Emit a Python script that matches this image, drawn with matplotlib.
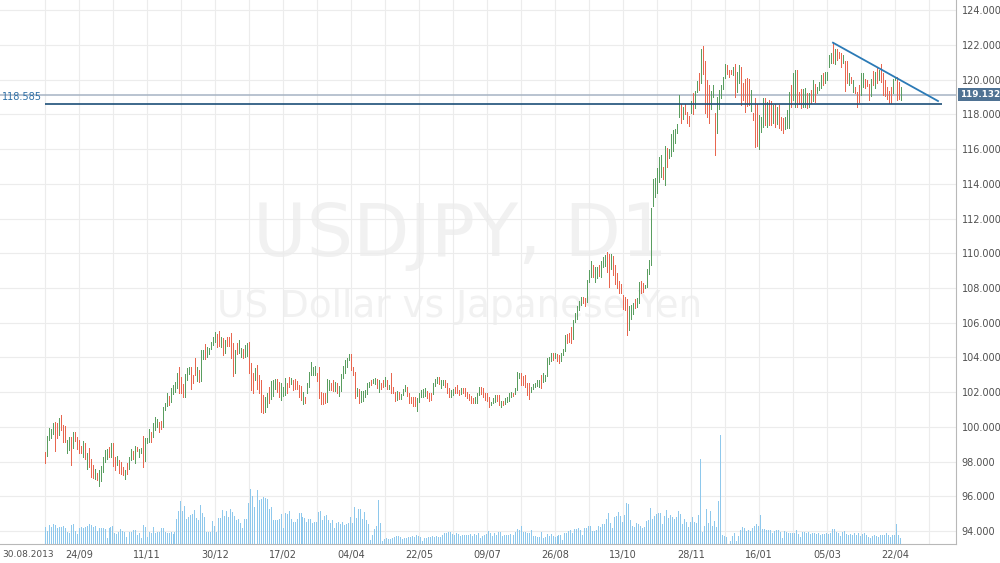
import numpy as np
import matplotlib
matplotlib.use('Agg')
import matplotlib.pyplot as plt

# USDJPY D1, 30.08.2013 - 24.04.2015 (one entry per daily bar)
highs = [
    98.55, 99.48, 99.92, 99.86, 100.20, 100.30, 100.20, 100.53, 100.68, 100.09,
    100.05, 99.24, 99.40, 99.44, 99.72, 99.72, 99.40, 99.24, 98.90, 99.19,
    99.09, 98.51, 98.76, 98.13, 97.80, 97.55, 97.32, 97.51, 97.74, 98.28,
    98.67, 98.71, 98.82, 99.05, 99.05, 98.28, 98.32, 98.09, 97.99, 97.71,
    97.51, 97.90, 98.28, 98.71, 98.63, 98.90, 98.86, 98.71, 98.76, 99.48,
    99.34, 99.38, 99.86, 99.72, 100.24, 100.55, 100.43, 100.30, 100.35, 101.16,
    101.39, 101.93, 101.78, 102.22, 102.41, 102.60, 103.12, 103.47, 102.89, 102.47,
    103.05, 103.37, 103.47, 103.43, 102.99, 103.95, 103.43, 103.28, 104.43, 104.43,
    104.75, 104.62, 104.52, 104.89, 105.19, 105.48, 105.35, 105.54, 105.19, 105.10,
    105.01, 105.19, 105.16, 105.42, 104.81, 104.43, 104.81, 105.01, 104.52, 104.47,
    104.71, 104.81, 104.91, 103.66, 103.08, 103.37, 103.57, 102.99, 102.70, 101.83,
    101.74, 101.97, 102.28, 102.66, 102.70, 102.74, 102.74, 102.60, 102.51, 102.32,
    102.79, 102.51, 102.89, 102.79, 102.70, 102.74, 102.64, 102.41, 102.35, 102.03,
    101.74, 102.54, 103.18, 103.76, 103.47, 103.51, 103.12, 103.47, 102.03, 101.97,
    101.97, 102.74, 102.70, 102.54, 102.70, 102.60, 102.51, 102.35, 103.05, 103.51,
    103.85, 103.95, 104.20, 104.20, 103.43, 103.18, 102.22, 102.16, 102.08, 102.08,
    102.12, 102.54, 102.60, 102.70, 102.74, 102.79, 102.74, 102.70, 102.51, 102.70,
    102.89, 102.70, 102.41, 103.12, 102.31, 102.02, 102.08, 102.02, 101.89, 102.16,
    102.41, 102.31, 101.93, 101.74, 101.70, 101.70, 101.64, 101.93, 102.12, 102.16,
    102.22, 102.08, 101.97, 101.97, 102.54, 102.74, 102.89, 102.89, 102.70, 102.70,
    102.70, 102.51, 102.22, 102.12, 102.16, 102.31, 102.41, 102.12, 102.22, 102.22,
    102.22, 102.02, 101.89, 101.77, 101.64, 101.74, 101.97, 102.31, 102.31, 102.22,
    101.97, 101.93, 101.74, 101.45, 101.64, 101.83, 101.83, 101.83, 101.50, 101.50,
    101.64, 101.74, 101.97, 102.03, 101.97, 102.22, 103.18, 103.08, 103.12, 102.93,
    102.98, 102.54, 102.50, 102.31, 102.47, 102.54, 102.70, 102.70, 102.98, 103.08,
    102.98, 103.94, 104.04, 104.27, 104.27, 104.27, 104.19, 104.13, 104.23, 104.46,
    105.29, 105.35, 105.38, 105.73, 106.15, 106.58, 106.96, 107.27, 107.46, 107.46,
    107.40, 108.46, 109.03, 109.57, 109.32, 109.23, 109.19, 109.32, 109.57, 109.76,
    109.90, 110.09, 109.96, 109.96, 109.84, 109.32, 108.84, 108.42, 108.23, 107.60,
    107.50, 107.35, 106.96, 107.00, 107.13, 107.36, 107.42, 108.34, 108.40, 108.29,
    108.17, 109.10, 109.60, 112.60, 114.28, 114.33, 114.90, 115.54, 115.66, 114.97,
    116.18, 116.06, 116.00, 116.87, 117.10, 117.16, 117.44, 119.10, 118.60, 118.42,
    118.60, 118.14, 117.90, 118.77, 119.23, 119.35, 119.92, 120.38, 121.77, 121.94,
    121.07, 119.98, 119.69, 119.35, 119.69, 118.08, 119.00, 119.40, 119.69, 120.15,
    120.90, 120.84, 120.56, 120.56, 120.73, 120.90, 120.44, 120.84, 120.73, 119.80,
    120.04, 120.09, 120.04, 119.40, 118.08, 118.94, 118.60, 117.96, 117.83, 118.92,
    118.92, 118.73, 118.83, 118.79, 118.54, 118.60, 118.40, 118.54, 117.83, 117.77,
    117.83, 118.25, 119.31, 119.69, 120.40, 120.56, 120.56, 119.31, 119.44, 119.44,
    119.50, 119.21, 119.21, 119.40, 119.98, 119.75, 119.60, 119.88, 120.27, 120.36,
    120.46, 120.46, 121.42, 121.52, 122.13, 121.75, 121.75, 121.61, 121.52, 121.42,
    121.09, 121.09, 120.40, 120.17, 119.98, 119.60, 119.31, 119.69, 120.36, 120.40,
    120.02, 119.98, 119.75, 120.02, 120.52, 120.46, 120.71, 120.56, 120.90, 120.36,
    119.98, 119.56, 119.36, 119.56, 120.02, 120.13, 120.17, 119.88, 119.56,
]
lows = [
    97.93, 98.32, 99.24, 99.38, 99.59, 98.63, 99.38, 99.53, 99.82, 99.13,
    99.13, 98.51, 98.67, 97.80, 98.76, 99.19, 98.71, 98.47, 98.47, 98.28,
    98.13, 97.59, 97.71, 97.13, 97.03, 96.98, 96.94, 96.61, 96.90, 97.42,
    97.99, 98.13, 98.28, 98.28, 97.74, 97.51, 97.80, 97.32, 97.28, 97.23,
    97.00, 97.28, 97.55, 98.09, 98.13, 97.90, 98.63, 98.24, 98.47, 97.71,
    98.05, 99.05, 99.15, 99.15, 99.44, 99.82, 100.01, 99.72, 99.86, 100.01,
    100.97, 101.20, 101.26, 101.45, 101.89, 102.03, 102.22, 101.93, 101.93, 101.70,
    101.70, 102.70, 103.05, 102.18, 102.51, 102.99, 102.64, 102.60, 102.64, 103.89,
    103.89, 104.05, 104.18, 104.47, 104.71, 104.91, 104.62, 104.66, 104.62, 104.14,
    104.24, 104.68, 104.66, 103.95, 102.93, 103.08, 104.20, 104.27, 104.05, 103.95,
    104.05, 104.08, 103.08, 102.12, 101.93, 102.70, 102.16, 101.93, 100.87, 100.81,
    100.87, 101.16, 101.39, 101.58, 101.78, 102.16, 102.03, 101.74, 101.55, 101.78,
    101.83, 101.97, 102.32, 102.47, 102.12, 102.20, 102.16, 101.70, 101.55, 101.30,
    101.39, 101.93, 102.28, 102.99, 102.99, 102.99, 102.66, 101.64, 101.30, 101.32,
    101.35, 101.45, 102.12, 102.12, 102.08, 102.06, 101.97, 101.78, 102.08, 102.79,
    103.12, 103.47, 103.85, 103.27, 102.99, 101.64, 101.77, 101.39, 101.45, 101.48,
    101.70, 101.89, 102.27, 102.41, 102.51, 102.47, 102.25, 102.02, 102.16, 102.27,
    102.35, 102.16, 102.16, 101.93, 101.93, 101.50, 101.54, 101.58, 101.58, 101.83,
    102.08, 101.79, 101.39, 101.39, 101.20, 101.20, 100.93, 101.45, 101.74, 101.74,
    101.77, 101.64, 101.50, 101.54, 101.89, 102.35, 102.51, 102.47, 102.22, 102.41,
    102.31, 101.93, 101.70, 101.70, 101.83, 101.93, 101.97, 101.83, 101.89, 101.93,
    101.77, 101.64, 101.54, 101.39, 101.35, 101.39, 101.39, 101.83, 101.89, 101.74,
    101.54, 101.50, 101.16, 101.26, 101.35, 101.45, 101.50, 101.26, 101.16, 101.26,
    101.31, 101.45, 101.50, 101.74, 101.77, 101.89, 102.12, 102.79, 102.41, 102.41,
    102.31, 101.83, 101.58, 102.03, 102.16, 102.28, 102.35, 102.31, 102.22, 102.60,
    102.66, 102.93, 103.62, 103.81, 103.85, 103.94, 103.81, 103.66, 103.81, 104.13,
    104.38, 104.85, 104.90, 104.81, 105.04, 106.06, 106.19, 106.73, 107.02, 107.15,
    106.96, 107.21, 108.36, 108.65, 108.65, 108.36, 108.55, 108.69, 108.65, 109.23,
    109.26, 108.94, 108.07, 109.07, 108.74, 108.23, 107.98, 107.73, 107.71, 106.80,
    106.75, 105.30, 105.58, 106.20, 106.50, 106.85, 106.90, 107.13, 107.70, 107.77,
    108.00, 108.05, 108.80, 109.30, 112.70, 113.24, 113.50, 114.10, 114.40, 114.28,
    113.93, 114.97, 115.50, 115.60, 115.90, 116.35, 116.93, 117.85, 117.50, 117.73,
    118.00, 117.50, 117.33, 118.08, 118.00, 118.37, 119.29, 119.40, 119.80, 120.33,
    118.08, 117.85, 117.50, 118.31, 119.00, 115.66, 116.93, 118.31, 118.94, 119.46,
    120.09, 120.33, 120.15, 120.33, 120.27, 119.00, 119.29, 119.80, 118.54, 118.83,
    118.14, 118.48, 118.54, 118.20, 117.68, 116.12, 116.18, 116.00, 117.00, 117.29,
    117.39, 117.29, 117.39, 117.39, 117.48, 117.29, 117.44, 117.20, 117.10, 116.95,
    117.14, 117.20, 117.20, 118.44, 118.83, 118.44, 118.40, 118.60, 118.35, 118.44,
    118.40, 118.35, 118.40, 118.64, 118.79, 118.73, 119.21, 119.40, 119.50, 119.69,
    119.79, 119.98, 120.71, 120.94, 120.94, 120.90, 121.13, 121.23, 120.71, 120.94,
    119.36, 119.79, 119.69, 119.79, 119.31, 119.21, 118.44, 118.73, 119.12, 119.60,
    119.50, 119.62, 118.83, 119.06, 119.69, 119.50, 119.79, 119.98, 119.88, 119.12,
    119.06, 118.87, 118.67, 118.64, 119.21, 119.98, 118.83, 118.87, 118.83,
]
# g = bar closed up, r = bar closed down
direction = (
    "rggggrrgrr" "rggrgrrrrg" "rgrrrgrggg" "ggrgrrgrrr" "grggrgrggr"
    "gggrgggrrg" "ggrggggrrr" "gggrrrgrgg" "rgggggrrgr" "grrrrgrggr"
    "ggrrrgrrrr" "ggrgggrrgg" "grrgrrrrrg" "rgggggrrrr" "rggrrgrggg"
    "gggrrrgrgg" "gggrggrgrr" "grgrrrgrgg" "grrrrrgggg" "grrrgggrgg"
    "rrrggrrrgr" "rrrrrgggrr" "rrrgggrrgr" "ggggrgggrr" "rrrgggggrg"
    "ggggrgrrgg" "grrrgggggr" "rgggrggrgg" "grrgrrrrrr" "rrgggrggrr"
    "gggggggggr" "grggggggrg" "rrrgrggrgr" "rrrggrgggg" "grrrgrggrr"
    "rrrgrrrggg" "rgrrgrgrrr" "gggrggrrrg" "grgrgrgggr" "ggggrgrrrg"
    "rrgrgrrrgg" "rrrgrgrgrr" "rrrrggrrg"
)
# tick volume
volumes = [
    17, 13, 19, 17, 20, 19, 16, 17, 17, 18, 16, 12, 11, 19, 20, 13, 10, 16, 17, 16,
    17, 18, 20, 19, 17, 18, 13, 16, 16, 16, 15, 6, 16, 17, 18, 11, 10, 12, 15, 13,
    12, 7, 12, 12, 14, 14, 9, 11, 6, 19, 17, 7, 12, 11, 17, 11, 12, 12, 16, 16,
    12, 11, 11, 12, 10, 12, 25, 33, 43, 33, 38, 25, 27, 29, 30, 34, 26, 24, 39, 31,
    27, 12, 12, 12, 23, 18, 12, 26, 26, 34, 28, 33, 27, 35, 32, 28, 24, 25, 21, 16,
    25, 25, 41, 55, 48, 37, 54, 44, 45, 47, 46, 45, 35, 37, 24, 24, 24, 25, 30, 16,
    31, 30, 33, 25, 22, 22, 25, 31, 31, 27, 26, 22, 25, 25, 21, 22, 22, 32, 33, 24,
    28, 29, 24, 21, 24, 16, 21, 22, 20, 22, 19, 20, 21, 27, 21, 37, 26, 35, 35, 25,
    32, 24, 20, 4, 9, 15, 18, 44, 21, 3, 5, 6, 5, 5, 6, 7, 8, 8, 7, 5,
    6, 6, 7, 7, 8, 7, 9, 8, 7, 3, 6, 6, 7, 7, 8, 7, 8, 7, 7, 9,
    11, 11, 12, 12, 10, 9, 11, 10, 8, 9, 9, 9, 9, 10, 8, 10, 9, 11, 6, 8,
    9, 10, 13, 11, 8, 11, 9, 12, 12, 8, 9, 9, 9, 10, 9, 12, 15, 14, 18, 12,
    12, 11, 11, 14, 8, 8, 7, 7, 12, 6, 7, 10, 8, 10, 8, 7, 8, 9, 9, 4,
    11, 11, 13, 14, 11, 15, 15, 16, 14, 9, 16, 16, 18, 18, 13, 13, 14, 18, 17, 20,
    20, 25, 31, 21, 16, 27, 28, 32, 28, 22, 29, 41, 40, 24, 18, 17, 21, 20, 18, 16,
    17, 23, 24, 36, 25, 28, 30, 31, 31, 20, 28, 34, 26, 29, 27, 25, 27, 33, 30, 20,
    25, 22, 17, 22, 27, 22, 21, 29, 85, 12, 18, 35, 21, 33, 18, 23, 17, 43, 109, 9,
    8, 7, 0, 3, 8, 11, 3, 8, 14, 17, 16, 13, 14, 13, 16, 18, 20, 18, 29, 15,
    15, 14, 14, 14, 11, 13, 14, 14, 12, 6, 13, 12, 11, 11, 11, 11, 14, 10, 7, 12,
    12, 11, 12, 10, 11, 11, 10, 11, 9, 10, 10, 11, 10, 11, 15, 15, 12, 11, 8, 12,
    13, 10, 9, 10, 9, 11, 9, 11, 8, 10, 11, 9, 7, 6, 8, 9, 8, 7, 9, 9,
    9, 11, 9, 7, 9, 9, 20, 9, 6,
]
date_labels = ['24/09', '11/11', '30/12', '17/02', '04/04', '22/05', '09/07',
               '26/08', '13/10', '28/11', '16/01', '05/03', '22/04']
first_label = '30.08.2013'
support_level = 118.585
last_price = 119.132
trend_bars = [394, 446.5]
trend_prices = [122.13, 118.77]

n = len(highs)
assert len(lows) == n and len(direction) == n and len(volumes) == n
bars = np.arange(n)

GREEN = '#5a9e60'
RED = '#e8664f'
GRID = '#ececec'
TXT = '#505050'

fig = plt.figure(figsize=(10, 5.63), dpi=100)
rect = [0, 19 / 563, 956 / 1000, 544 / 563]
ax = fig.add_axes(rect)
ax.set_xlim(-22.5, 455.5)
ax.set_ylim(93.25, 124.59)
ax.set_axisbelow(True)

# watermark
wm1 = ax.text(0.481, 0.529, 'USDJPY, D1', transform=ax.transAxes, ha='center',
              va='baseline', color='#f1f1f1', fontsize=50, zorder=0.1)
wm2 = ax.text(0.481, 0.417, 'US Dollar vs Japanese Yen', transform=ax.transAxes,
              ha='center', va='baseline', color='#f1f1f1', fontsize=26, zorder=0.1)
r = fig.canvas.get_renderer()
for t, w in ((wm1, 415), (wm2, 485)):
    t.set_fontsize(t.get_fontsize() * w / t.get_window_extent(r).width)

# axes styling
ax.yaxis.tick_right()
ax.set_yticks(np.arange(94, 125, 2))
ax.set_yticklabels(['%.3f' % v for v in np.arange(94, 125, 2)])
ax.set_xticks(np.arange(17, n, 34))
ax.set_xticklabels(date_labels)
ax.set_xticks(np.arange(0, 456, 17), minor=True)
ax.grid(which='both', color=GRID, lw=0.8)
ax.tick_params(which='both', length=0, labelsize=7, colors=TXT)
ax.tick_params(axis='y', pad=4)
ax.tick_params(axis='x', pad=4)
for s in ['top', 'left']:
    ax.spines[s].set_visible(False)
for s in ['right', 'bottom']:
    ax.spines[s].set_color('#b8b8b8')
ax.annotate(first_label, xy=(0, 0), xycoords=('axes fraction', 'axes fraction'),
            xytext=(2, -4), textcoords='offset points', ha='left', va='top',
            fontsize=6.5, color=TXT)

# price bars
cols = [GREEN if d == 'g' else RED for d in direction]
ax.vlines(bars, lows, highs, colors=cols, lw=0.6, antialiased=False, zorder=3)

# levels and trend line
ax.axhline(last_price, color='#a6b3c3', lw=1.1, zorder=2)
ax.hlines(support_level, 0, 448.5, color='#1d4f78', lw=1.2, zorder=4)
ax.plot(trend_bars, trend_prices, color='#2b7ab6', lw=1.3, zorder=4)
ax.annotate('%.3f' % support_level, xy=(0, support_level),
            xycoords=('axes fraction', 'data'), xytext=(1.5, 1.5),
            textcoords='offset points', ha='left', va='bottom', fontsize=7,
            color='#2e6fa6')
ax.annotate('%.3f' % last_price, xy=(1, last_price),
            xycoords=('axes fraction', 'data'), xytext=(3, 0),
            textcoords='offset points', ha='left', va='center', fontsize=6.3,
            color='white', fontweight='bold',
            bbox=dict(boxstyle='square,pad=0.2', fc='#4f7293', ec='none'))

# volume histogram at the bottom
vax = fig.add_axes(rect)
vax.patch.set_visible(False)
vax.set_xlim(-22.5, 455.5)
vax.set_ylim(0, 544)
vax.bar(bars, volumes, width=0.5, color='#8ec8ec', lw=0, antialiased=False)
vax.axis('off')

plt.savefig('out.png', dpi=100)
